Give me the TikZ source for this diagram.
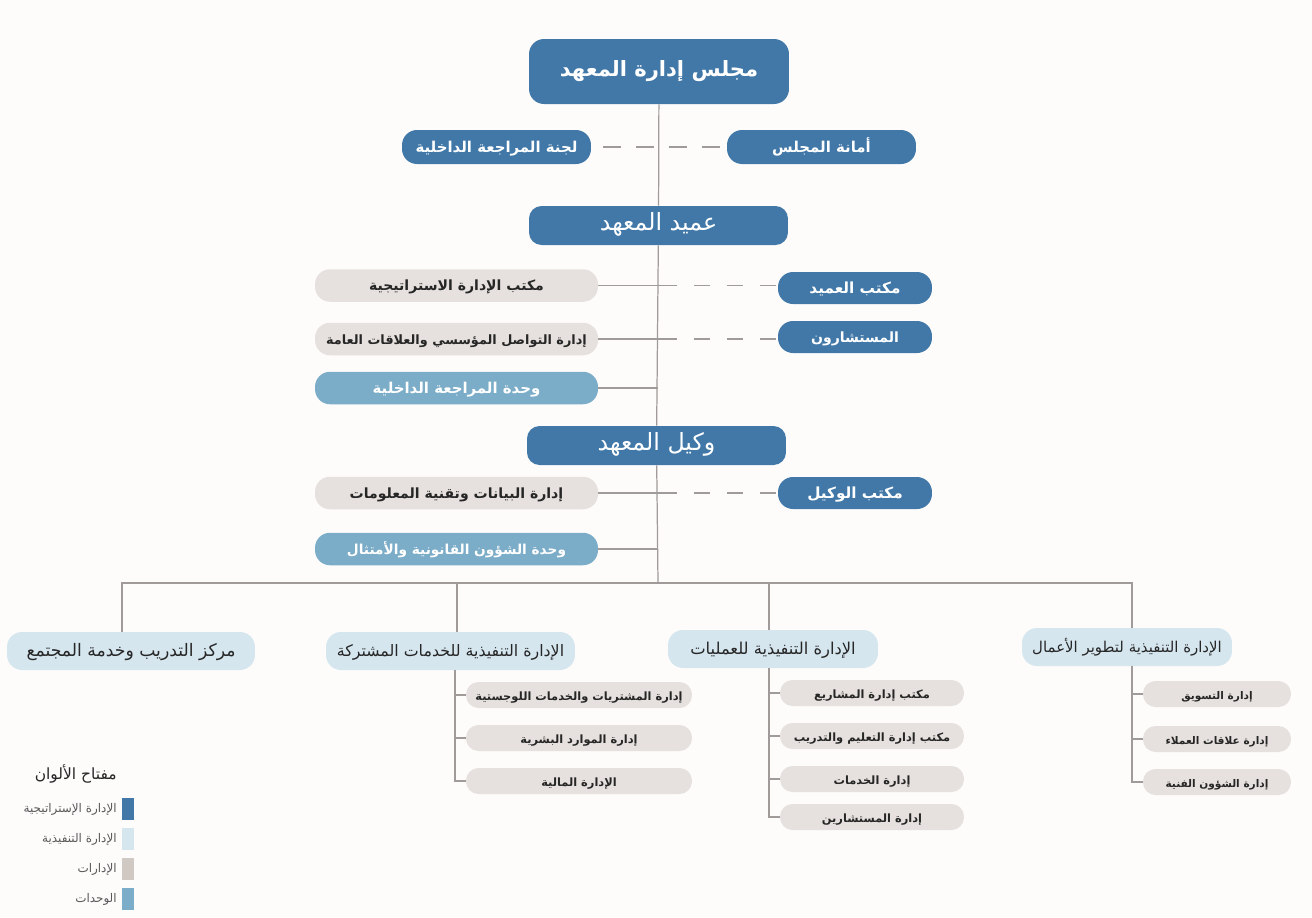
\documentclass[tikz,border=0pt]{standalone}
\usepackage{fontspec}
\setmainfont{DejaVu Sans}
\newfontfamily\arabicfont[Script=Arabic]{DejaVu Sans}
\TeXXeTstate=1
\newcommand{\artxt}[1]{\arabicfont\beginR #1\endR}
\definecolor{stratcol}{HTML}{4178A8}
\definecolor{execcol}{HTML}{D5E6EF}
\definecolor{deptcol}{HTML}{E6E1DE}
\definecolor{unitcol}{HTML}{7BACC8}
\definecolor{keycol}{HTML}{D0C8C2}
\definecolor{linecol}{HTML}{A09A98}
\definecolor{bgcol}{HTML}{FDFCFB}

\begin{document}
\begin{tikzpicture}[x=0.02cm,y=-0.02cm,
    every node/.style={inner sep=0pt,align=center},
    box/.style={rounded corners=0.3cm,minimum height=0.65cm,text height=1.3ex,text depth=0.2ex},
    strat/.style={box,fill=stratcol,text=white,font=\bfseries\fontsize{8.7}{10}\selectfont},
    dept/.style={box,fill=deptcol,text=black!85,minimum width=5.66cm,font=\bfseries\fontsize{8}{10}\selectfont},
    unit/.style={dept,fill=unitcol,text=white,font=\bfseries\fontsize{8.5}{10}\selectfont},
    exec/.style={box,fill=execcol,text=black!85,minimum height=0.76cm,font=\fontsize{9.3}{11}\selectfont},
    sub/.style={box,rounded corners=0.25cm,fill=deptcol,text=black!85,minimum height=0.52cm,font=\bfseries\fontsize{6.5}{8}\selectfont},
    head/.style={strat,rounded corners=0.25cm,minimum width=5.18cm,minimum height=0.78cm,font=\fontsize{13.5}{16}\selectfont},
    line/.style={draw=linecol,line width=0.7pt},
    gap/.style={line,dash pattern=on 0.32cm off 0.34cm,dash phase=0.32cm},
    key/.style={minimum width=0.24cm,minimum height=0.44cm},
    keytext/.style={anchor=east,text=black!65,font=\fontsize{6.8}{8}\selectfont}]

\fill[bgcol] (0,0) rectangle (1312,917);
\useasboundingbox (0,0) rectangle (1312,917);

% top of the chart
\node[strat,rounded corners=0.3cm,minimum width=5.2cm,minimum height=1.3cm,font=\bfseries\fontsize{12}{14}\selectfont] (board) at (659,71.5) {\artxt{مجلس إدارة المعهد}};
\node[strat,minimum width=3.78cm,minimum height=0.68cm,font=\bfseries\fontsize{8.5}{10}\selectfont] (audit) at (496.5,147) {\artxt{لجنة المراجعة الداخلية}};
\node[strat,minimum width=3.78cm,minimum height=0.68cm,font=\bfseries\fontsize{8.5}{10}\selectfont] (secr) at (821.5,147) {\artxt{أمانة المجلس}};
\node[head] (dean) at (658.5,225.5) {\artxt{عميد المعهد}};

% dean side
\node[dept] (stratoff) at (456.5,285.5) {\artxt{مكتب الإدارة الاستراتيجية}};
\node[dept,font=\bfseries\fontsize{7.3}{9}\selectfont] (comm) at (456.5,339) {\artxt{إدارة التواصل المؤسسي والعلاقات العامة}};
\node[unit] (auditu) at (456.5,388) {\artxt{وحدة المراجعة الداخلية}};
\node[strat,minimum width=3.08cm,minimum height=0.64cm] (deanoff) at (855,288) {\artxt{مكتب العميد}};
\node[strat,minimum width=3.08cm,minimum height=0.64cm,font=\bfseries\fontsize{8}{10}\selectfont] (advis) at (855,337) {\artxt{المستشارون}};

% agent side
\node[head] (agent) at (656.5,445.5) {\artxt{وكيل المعهد}};
\node[dept] (data) at (456.5,493) {\artxt{إدارة البيانات وتقنية المعلومات}};
\node[unit,font=\bfseries\fontsize{7.8}{9}\selectfont] (legal) at (456.5,549) {\artxt{وحدة الشؤون القانونية والأمتثال}};
\node[strat,minimum width=3.08cm,minimum height=0.64cm] (agentoff) at (855,493) {\artxt{مكتب الوكيل}};

% executive level
\node[exec,minimum width=4.96cm,font=\fontsize{9.8}{11}\selectfont] (train) at (131,651) {\artxt{مركز التدريب وخدمة المجتمع}};
\node[exec,minimum width=4.98cm,font=\fontsize{9}{11}\selectfont] (shared) at (450.5,651) {\artxt{الإدارة التنفيذية للخدمات المشتركة}};
\node[exec,minimum width=4.2cm] (ops) at (773,649) {\artxt{الإدارة التنفيذية للعمليات}};
\node[exec,minimum width=4.2cm,font=\fontsize{8.5}{10}\selectfont] (biz) at (1127,647) {\artxt{الإدارة التنفيذية لتطوير الأعمال}};

\node[sub,minimum width=4.52cm] (sh1) at (579,695) {\artxt{إدارة المشتريات والخدمات اللوجستية}};
\node[sub,minimum width=4.52cm] (sh2) at (579,738) {\artxt{إدارة الموارد البشرية}};
\node[sub,minimum width=4.52cm] (sh3) at (579,781) {\artxt{الإدارة المالية}};
\node[sub,minimum width=3.68cm] (op1) at (872,693) {\artxt{مكتب إدارة المشاريع}};
\node[sub,minimum width=3.68cm] (op2) at (872,736) {\artxt{مكتب إدارة التعليم والتدريب}};
\node[sub,minimum width=3.68cm] (op3) at (872,779) {\artxt{إدارة الخدمات}};
\node[sub,minimum width=3.68cm] (op4) at (872,817) {\artxt{إدارة المستشارين}};
\node[sub,minimum width=2.96cm,font=\bfseries\fontsize{6}{7}\selectfont] (bz1) at (1217,694) {\artxt{إدارة التسويق}};
\node[sub,minimum width=2.96cm,font=\bfseries\fontsize{6}{7}\selectfont] (bz2) at (1217,739) {\artxt{إدارة علاقات العملاء}};
\node[sub,minimum width=2.96cm,font=\bfseries\fontsize{6}{7}\selectfont] (bz3) at (1217,782) {\artxt{إدارة الشؤون الفنية}};

% spine
\coordinate (bus) at (658,583);
\draw[line] (board) -- (dean) (dean) -- (agent) (agent) -- (bus);
\draw[gap,dash phase=0.42cm,dash pattern=on 0.36cm off 0.3cm] (audit) -- (secr);
\foreach \l/\r in {stratoff/deanoff,comm/advis,data/agentoff}{
  \draw[line] (\l.east) -- ++(79,0) coordinate (\l-x);
  \draw[gap] (\l-x) -- (\l-x -| \r.west);
}
\foreach \l in {auditu,legal}
  \draw[line] (\l.east) -- (\l.east -| bus);

% drops to the executive level
\coordinate (d1) at ([xshift=-0.18cm]train.north);
\coordinate (d2) at ([xshift=0.13cm]shared.north);
\coordinate (d3) at ([xshift=-0.08cm]ops.north);
\coordinate (d4) at ([xshift=0.1cm]biz.north);
\draw[line] (d1) -- (d1 |- bus) -- (d4 |- bus) -- (d4);
\foreach \d in {d2,d3}
  \draw[line] (\d) -- (\d |- bus);

% branches
\foreach \s in {sh1,sh2,sh3}
  \draw[line] ([xshift=0.09cm]shared.south) |- (\s.west);
\foreach \s in {op1,op2,op3,op4}
  \draw[line] ([xshift=-0.08cm]ops.south) |- (\s.west);
\foreach \s in {bz1,bz2,bz3}
  \draw[line] ([xshift=0.1cm]biz.south) |- (\s.west);

% colour key
\node[anchor=east,text=black!85,font=\fontsize{8.8}{11}\selectfont] (keyhead) at (117,774) {\artxt{مفتاح الألوان}};
\node[key,fill=stratcol] (k1) at (128,809) {};
\node[key,fill=execcol] (k2) at (128,839) {};
\node[key,fill=keycol] (k3) at (128,869) {};
\node[key,fill=unitcol] (k4) at (128,899) {};
\node[keytext] at (117,809) {\artxt{الإدارة الإستراتيجية}};
\node[keytext] at (117,839) {\artxt{الإدارة التنفيذية}};
\node[keytext] at (117,869) {\artxt{الإدارات}};
\node[keytext] at (117,899) {\artxt{الوحدات}};
\end{tikzpicture}
\end{document}
